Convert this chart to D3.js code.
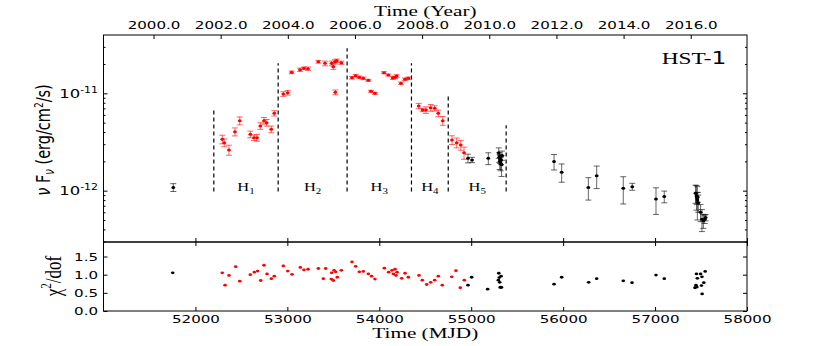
<!DOCTYPE html>
<html>
<head>
<meta charset="utf-8">
<script src="https://cdn.jsdelivr.net/npm/d3@7"></script>
<style>
body { margin: 0; background: #fff; }
</style>
</head>
<body>
<div id="graph"></div>
<script>
// flux values in units of 1e-12 erg/cm2/s : [MJD, flux, error]
var fluxRed = [
  [52292, 3.37, 0.34], [52314, 3.11, 0.29], [52365, 2.62, 0.31], [52430, 4.03, 0.38],
  [52482, 5.23, 0.49], [52597, 3.79, 0.30], [52637, 3.50, 0.22], [52670, 3.50, 0.28],
  [52706, 4.62, 0.36], [52746, 5.23, 0.41], [52775, 4.99, 0.39], [52825, 4.27, 0.34],
  [52858, 6.23, 0.39],
  [52956, 9.84, 0.54], [53004, 10.14, 0.56], [53047, 16.43, 0.52], [53138, 17.47, 0.69],
  [53181, 18.07, 0.57], [53225, 17.90, 0.70], [53337, 21.1, 0.67], [53409, 20.3, 1.13],
  [53482, 20.3, 1.13], [53500, 18.75, 1.17], [53518, 21.1, 1.0], [53537, 21.6, 0.87],
  [53587, 20.6, 0.8], [53522, 10.24, 0.57],
  [53703, 14.45, 0.44], [53743, 15.17, 0.47], [53783, 14.59, 0.45], [53826, 14.26, 0.44],
  [53881, 13.60, 0.32], [53910, 10.49, 0.25], [53953, 10.0, 0.24], [54051, 16.3, 0.39],
  [54098, 15.4, 0.36], [54146, 14.36, 0.45], [54171, 14.59, 0.43], [54189, 15.06, 0.47],
  [54236, 12.67, 0.39], [54280, 13.93, 0.43], [54316, 14.26, 0.43],
  [54429, 7.41, 0.47], [54472, 6.74, 0.26], [54508, 6.74, 0.52], [54559, 7.11, 0.56],
  [54603, 7.01, 0.44], [54642, 6.23, 0.49], [54690, 5.23, 0.54],
  [54791, 3.32, 0.34], [54842, 3.11, 0.36], [54886, 2.94, 0.34], [54922, 2.45, 0.35]
];
var fluxBlack = [
  [51759, 1.08, 0.10],
  [54965, 2.15, 0.22], [55009, 2.07, 0.13], [55186, 2.15, 0.30],
  [55300, 2.45, 0.3], [55305, 2.2, 0.25], [55310, 2.0, 0.35], [55315, 2.1, 0.2],
  [55320, 1.9, 0.3], [55325, 2.05, 0.2], [55330, 1.85, 0.45], [55335, 2.3, 0.25],
  [55901, 1.99, 0.36], [55984, 1.55, 0.33], [56274, 1.08, 0.28], [56365, 1.42, 0.37],
  [56654, 1.06, 0.33], [56752, 1.10, 0.09], [57010, 0.82, 0.25], [57100, 0.87, 0.12],
  [57440, 0.94, 0.2], [57450, 0.88, 0.25], [57455, 0.84, 0.12], [57460, 0.80, 0.3],
  [57465, 0.86, 0.1], [57470, 0.75, 0.15], [57495, 0.60, 0.12], [57510, 0.51, 0.13],
  [57525, 0.49, 0.08], [57540, 0.51, 0.05], [57550, 0.53, 0.04]
];

// reduced chi2 : [MJD, chi2/dof]
var chiRed = [
  [52292, 1.05], [52322, 0.71], [52365, 0.98], [52438, 1.22], [52482, 0.82],
  [52597, 1.00], [52640, 1.07], [52677, 1.10], [52710, 0.84], [52746, 1.26],
  [52779, 1.02], [52825, 0.89], [52858, 0.96], [52956, 1.24], [53004, 1.10],
  [53051, 1.01], [53141, 1.20], [53181, 1.13], [53225, 1.15], [53337, 1.17],
  [53391, 0.89], [53417, 1.17], [53482, 1.05], [53478, 0.88], [53500, 0.84],
  [53508, 1.12], [53526, 1.08], [53543, 0.93], [53587, 1.12], [53703, 1.35],
  [53743, 1.23], [53783, 1.08], [53826, 1.09], [53881, 1.02], [53917, 0.96],
  [53953, 0.88], [54055, 1.18], [54102, 1.07], [54138, 1.12], [54155, 1.02],
  [54171, 1.15], [54182, 0.98], [54193, 1.07], [54244, 0.90], [54280, 1.04],
  [54316, 0.93], [54432, 0.98], [54468, 0.85], [54516, 0.73], [54559, 0.79],
  [54603, 0.85], [54642, 0.96], [54685, 0.71], [54788, 0.94], [54834, 1.11],
  [54881, 0.64], [54925, 0.85]
];
var chiBlack = [
  [51753, 1.05], [54965, 0.71], [55005, 0.93], [55179, 0.60],
  [55295, 0.85], [55300, 1.04], [55305, 0.92], [55310, 0.79], [55315, 0.65],
  [55320, 0.66], [55325, 0.96], [55330, 0.65],
  [55901, 0.74], [55984, 0.93], [56278, 0.79], [56365, 0.89], [56654, 0.83],
  [56749, 0.78], [57010, 0.99], [57100, 0.89],
  [57434, 0.64], [57445, 0.71], [57450, 1.02], [57455, 0.66], [57460, 0.90],
  [57495, 1.02], [57505, 0.70], [57510, 0.94], [57512, 0.47], [57530, 0.78], [57545, 1.09]
];

// high states H1..H5 : borders in MJD and height of the dashed line
var hBounds = [52200, 52900, 53650, 54350, 54750, 55380];
var hTops = [6.85, 20.3, 29.0, 20.3, 9.6, 4.69];
var hNames = ["1", "2", "3", "4", "5"];

var yearTicks = [2000, 2002, 2004, 2006, 2008, 2010, 2012, 2014, 2016];
var mjdTicks = [52000, 53000, 54000, 55000, 56000, 57000, 58000];
var fluxMajor = [1, 10];
var fluxMinor = [0.3, 0.4, 0.5, 0.6, 0.7, 0.8, 0.9, 2, 3, 4, 5, 6, 7, 8, 9, 20, 30];
var chiTicks = [0, 0.5, 1.0, 1.5];

var SX = 1.37; // the figure is stretched sideways, so text is too
var sans = "DejaVu Sans", serif = "Liberation Serif";

var svg = d3.select("#graph").append("svg").attr("width", 830).attr("height", 346);
var box = {left: 103.5, right: 747, top: 35, mid: 242, bottom: 311};

var x = d3.scaleLinear().domain([51000, 58000]).range([box.left, box.right]);
var toYear = function(m) { return 2000 + (m - 51544) / 365.25; };
var xYear = d3.scaleLinear().domain(x.domain().map(toYear)).range(x.range());
var yMain = d3.scaleLog().domain([0.297, 39.7]).range([box.mid, box.top]);
var yChi = d3.scaleLinear().domain([0, 1.9]).range([box.bottom, box.mid]);

function tidy(g) {
  g.select(".domain").remove();
  g.selectAll("line").attr("stroke", "#000");
  g.selectAll("text").attr("font-family", sans).attr("font-size", 11).attr("fill", "#000")
    .attr("transform", "scale(" + SX + ",1)");
}
function addAxis(axis, tx, ty) {
  svg.append("g").attr("transform", "translate(" + tx + "," + ty + ")").call(axis).call(tidy);
}

// ---- ticks
addAxis(d3.axisTop(xYear).tickValues(yearTicks).tickSize(-4).tickPadding(6).tickFormat(d3.format(".1f")), 0, box.top);
addAxis(d3.axisBottom(x).tickValues(mjdTicks).tickSize(-4).tickFormat(""), 0, box.mid);
addAxis(d3.axisTop(x).tickValues(mjdTicks).tickSize(-4).tickFormat(""), 0, box.mid);
addAxis(d3.axisBottom(x).tickValues(mjdTicks).tickSize(-4).tickPadding(4).tickFormat(d3.format("d")), 0, box.bottom);

addAxis(d3.axisLeft(yMain).tickValues(fluxMinor).tickSize(-2).tickFormat(""), box.left, 0);
addAxis(d3.axisRight(yMain).tickValues(fluxMinor).tickSize(-2).tickFormat(""), box.right, 0);
addAxis(d3.axisRight(yMain).tickValues(fluxMajor).tickSize(-4).tickFormat(""), box.right, 0);
var gMajor = svg.append("g").attr("transform", "translate(" + box.left + ",0)")
  .call(d3.axisLeft(yMain).tickValues(fluxMajor).tickSize(-4).tickPadding(4)).call(tidy);
gMajor.selectAll(".tick text").each(function(d) {
  var t = d3.select(this).text(null).attr("font-size", 12);
  t.append("tspan").text("10");
  t.append("tspan").attr("dy", -5).attr("font-size", 8).text("-" + (12 - Math.round(Math.log10(d))));
});

addAxis(d3.axisLeft(yChi).tickValues(chiTicks).tickSize(-4).tickPadding(4).tickFormat(d3.format(".1f")), box.left, 0);
addAxis(d3.axisRight(yChi).tickValues(chiTicks).tickSize(-4).tickFormat(""), box.right, 0);

// ---- frames
[[box.top, box.mid], [box.mid, box.bottom]].forEach(function(p) {
  svg.append("rect").attr("x", box.left).attr("y", p[0])
    .attr("width", box.right - box.left).attr("height", p[1] - p[0])
    .attr("fill", "none").attr("stroke", "#000").attr("stroke-width", 1);
});

// ---- dashed borders of the high states
var gStates = svg.append("g");
hBounds.forEach(function(m, i) {
  gStates.append("line")
    .attr("x1", x(m)).attr("x2", x(m))
    .attr("y1", yMain(0.98)).attr("y2", yMain(hTops[i]))
    .attr("stroke", "#000").attr("stroke-width", 1.2).attr("stroke-dasharray", "4,3");
});
hNames.forEach(function(n, i) {
  var mid = (hBounds[i] + hBounds[i + 1]) / 2;
  var t = gStates.append("text")
    .attr("transform", "translate(" + x(mid) + "," + (yMain(0.98) - 1) + ") scale(" + SX + ",1)")
    .attr("text-anchor", "middle").attr("font-family", serif).attr("font-size", 12);
  t.append("tspan").text("H");
  t.append("tspan").attr("dy", 3).attr("font-size", 8).text(n);
});

// ---- light curve with error bars
function drawObs(data, col, barCol) {
  var g = svg.append("g");
  var obs = g.selectAll("g").data(data).enter().append("g");
  obs.append("line")
    .attr("x1", function(d) { return x(d[0]); }).attr("x2", function(d) { return x(d[0]); })
    .attr("y1", function(d) { return yMain(d[1] - d[2]); })
    .attr("y2", function(d) { return yMain(d[1] + d[2]); });
  [-1, 1].forEach(function(s) {
    obs.append("line")
      .attr("x1", function(d) { return x(d[0]) - 3; }).attr("x2", function(d) { return x(d[0]) + 3; })
      .attr("y1", function(d) { return yMain(d[1] + s * d[2]); })
      .attr("y2", function(d) { return yMain(d[1] + s * d[2]); });
  });
  obs.selectAll("line").attr("stroke", barCol).attr("stroke-width", 1);
  obs.append("ellipse")
    .attr("cx", function(d) { return x(d[0]); }).attr("cy", function(d) { return yMain(d[1]); })
    .attr("rx", 1.9).attr("ry", 1.5).attr("fill", col);
}
drawObs(fluxRed, "#ff0000", "rgba(255,0,0,0.6)");
drawObs(fluxBlack, "#000", "rgba(0,0,0,0.6)");

// ---- chi2 panel
function drawChi(data, col) {
  svg.append("g").selectAll("ellipse").data(data).enter().append("ellipse")
    .attr("cx", function(d) { return x(d[0]); }).attr("cy", function(d) { return yChi(d[1]); })
    .attr("rx", 1.8).attr("ry", 1.4).attr("fill", col);
}
drawChi(chiRed, "#ff0000");
drawChi(chiBlack, "#000");

// ---- labels
function label(tx, ty, rot, font, size) {
  return svg.append("text")
    .attr("transform", "translate(" + tx + "," + ty + ") scale(" + SX + ",1)" + (rot ? " rotate(" + rot + ")" : ""))
    .attr("text-anchor", "middle").attr("font-family", font).attr("font-size", size).attr("fill", "#000");
}
label((box.left + box.right) / 2, 16, 0, serif, 15.5).text("Time (Year)");
label((box.left + box.right) / 2, 338, 0, serif, 15.5).text("Time (MJD)");

var hst = label(694, 64, 0, serif, 17);
hst.append("tspan").text("HST-");
hst.append("tspan").attr("font-family", sans).text("1");

var yl = label(50, 140, -90, sans, 14.5);
yl.append("tspan").attr("font-style", "italic").text("\u03bd");
yl.append("tspan").text(" F");
yl.append("tspan").attr("font-style", "italic").attr("font-size", 10).attr("dy", 3).text("\u03bd");
yl.append("tspan").attr("dy", -3).text(" (erg/cm");
yl.append("tspan").attr("font-size", 9).attr("dy", -5).text("2");
yl.append("tspan").attr("dy", 5).text("/s)");

var cl = label(61, 276, -90, serif, 17);
cl.append("tspan").text("\u03c7");
cl.append("tspan").attr("font-size", 11).attr("dy", -7).text("2");
cl.append("tspan").attr("dy", 7).text("/dof");
</script>
</body>
</html>
